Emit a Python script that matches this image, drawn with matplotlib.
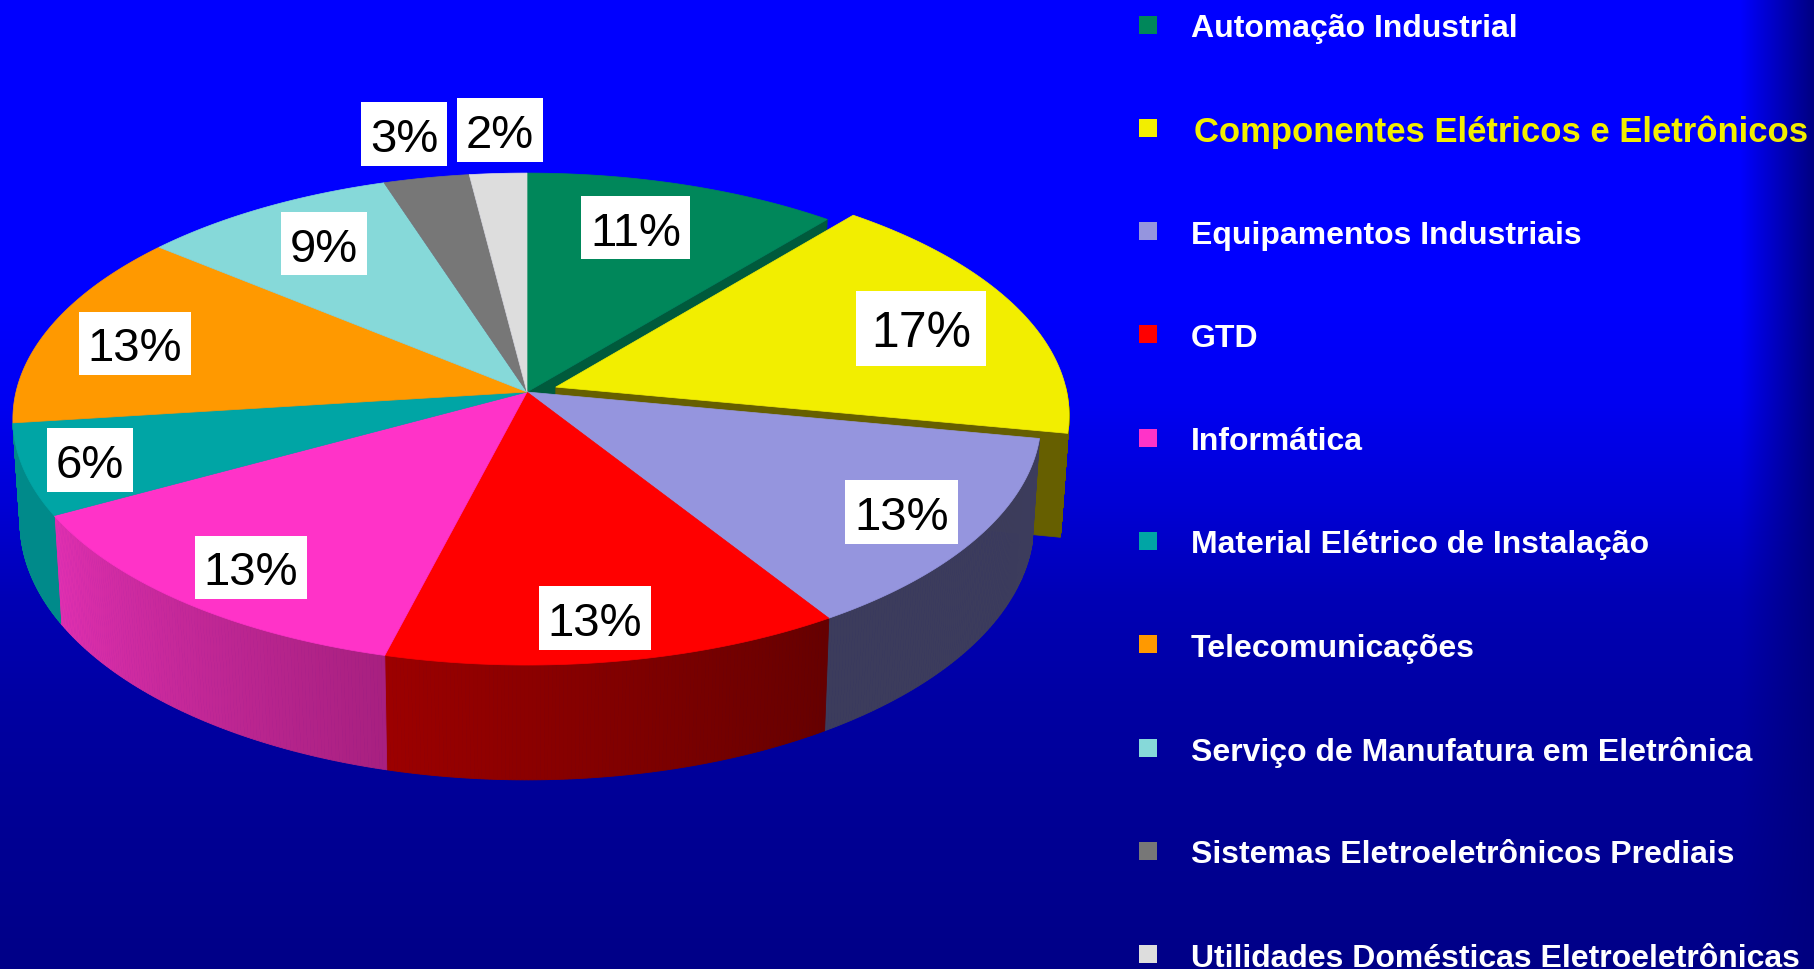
import matplotlib
matplotlib.use("Agg")
import matplotlib.pyplot as plt
import numpy as np
from matplotlib.patches import Polygon, Rectangle

# percent share per sector, clockwise from 12 o'clock
categories = [
    "Automação Industrial",
    "Componentes Elétricos e Eletrônicos",
    "Equipamentos Industriais",
    "GTD",
    "Informática",
    "Material Elétrico de Instalação",
    "Telecomunicações",
    "Serviço de Manufatura em Eletrônica",
    "Sistemas Eletroeletrônicos Prediais",
    "Utilidades Domésticas Eletroeletrônicas",
]
values = [11, 17, 13, 13, 13, 6, 13, 9, 3, 2]
labels = ["11%", "17%", "13%", "13%", "13%", "6%", "13%", "9%", "3%", "2%"]

colors = ["#00875a", "#f2ee00", "#9595de", "#ff0000", "#ff33c8",
          "#00a5a5", "#ff9900", "#86d9d9", "#777777", "#dddddd"]
side_start = ["#005a3c", "#665f00", "#3c3c5c", "#9c0000", "#e030b0",
              "#008a8a", "#a06000", "#508080", "#444444", "#888888"]
side_end = ["#005a3c", "#665f00", "#3c3c5c", "#660000", "#a82080",
            "#008a8a", "#a06000", "#508080", "#444444", "#888888"]

# white label boxes: left, top, right, bottom in pixels
label_boxes = [(581, 197, 690, 260), (856, 292, 986, 367), (845, 481, 958, 545),
               (539, 587, 651, 651), (195, 537, 307, 600), (47, 429, 133, 493),
               (79, 313, 191, 376), (281, 213, 367, 276), (361, 103, 447, 167),
               (457, 99, 543, 163)]

W, H = 1814, 970
CX, CY = 527, 393
RX, RY = 511, 243
PERSP = 0.11
EXPLODE = 0.06
exploded = 1


def top_xy(px, py):
    # plane coords of the pie top -> picture pixels
    d = 1 + PERSP * py
    return CX + RX * px / d, CY - RY * py / d


def bottom_xy(px, py):
    x, y = top_xy(px, py)
    return CX + 0.986 * (x - CX), CY + 102 + 1.047 * (y - CY)


def arc(t0, t1, n=120):
    t = np.radians(np.linspace(t0, t1, n))
    return np.sin(t), np.cos(t)


def mix(c0, c1, f):
    a = np.array(matplotlib.colors.to_rgb(c0))
    b = np.array(matplotlib.colors.to_rgb(c1))
    return tuple(a + (b - a) * f)


fig = plt.figure(figsize=(W / 100, H / 100), dpi=100)
ax = fig.add_axes([0, 0, 1, 1])
ax.set_xlim(0, W)
ax.set_ylim(H, 0)
ax.axis("off")

# background, bright blue at the top fading down, dark band at the right
fade_y = np.interp(np.arange(H), [0, 300, 400, 500, 600, 700, 800, 970],
                   [1, 1, 0.95, 0.84, 0.71, 0.64, 0.59, 0.53])
fade_x = np.clip((np.arange(W) - 1740) / (W - 1740), 0, 1)
blue = fade_y[:, None] * (1 - fade_x[None, :]) + 0.5 * fade_x[None, :]
bg = np.zeros((H, W, 3))
bg[:, :, 2] = blue
ax.imshow(bg, extent=(0, W, H, 0), aspect="auto", zorder=0)

edges = np.cumsum([0] + values) * 3.6
mids = (edges[:-1] + edges[1:]) / 2
shift_x = EXPLODE * np.sin(np.radians(mids[exploded]))
shift_y = EXPLODE * np.cos(np.radians(mids[exploded]))
# the orange sector shows no wall in the reference, walls stop at the teal one
wall_end = edges[6]


def draw_side(i, off_x=0, off_y=0, z=2):
    # outer wall of a sector, only the part that faces the viewer
    t0, t1 = max(edges[i], 90), min(edges[i + 1], wall_end)
    if t1 <= t0:
        return
    px, py = arc(t0, t1)
    for k in range(len(px) - 1):
        p0 = (px[k] + off_x, py[k] + off_y)
        p1 = (px[k + 1] + off_x, py[k + 1] + off_y)
        quad = [top_xy(*p0), top_xy(*p1), bottom_xy(*p1), bottom_xy(*p0)]
        c = mix(side_start[i], side_end[i], 1 - k / (len(px) - 2))
        ax.add_patch(Polygon(quad, fc=c, ec=c, lw=0.6, zorder=z))


def draw_top(i, off_x=0, off_y=0, z=4):
    px, py = arc(edges[i], edges[i + 1])
    pts = [top_xy(off_x, off_y)] + [top_xy(a + off_x, b + off_y) for a, b in zip(px, py)]
    ax.add_patch(Polygon(pts, fc=colors[i], ec=colors[i], lw=0.5, zorder=z))


def draw_cut(i, t, off_x=0, off_y=0, z=2):
    # radial wall left open by the exploded sector
    px, py = np.sin(np.radians(t)) + off_x, np.cos(np.radians(t)) + off_y
    quad = [top_xy(off_x, off_y), top_xy(px, py), bottom_xy(px, py), bottom_xy(off_x, off_y)]
    ax.add_patch(Polygon(quad, fc=side_start[i], ec=side_start[i], lw=0.5, zorder=z))


draw_cut(0, edges[1], z=1)
draw_top(0, z=1.5)
draw_cut(exploded, edges[exploded + 1], shift_x, shift_y, z=2)
draw_side(exploded, shift_x, shift_y, z=2)
draw_top(exploded, shift_x, shift_y, z=2.5)
for i in range(2, len(values)):
    draw_side(i, z=3)
for i in range(2, len(values)):
    draw_top(i, z=4)

for i, (x0, y0, x1, y1) in enumerate(label_boxes):
    ax.add_patch(Rectangle((x0, y0), x1 - x0, y1 - y0, fc="white", ec="none", zorder=5))
    ax.text((x0 + x1) / 2, (y0 + y1) / 2, labels[i], fontsize=36 if i == exploded else 34,
            color="black", family="Liberation Sans", ha="center", va="center_baseline", zorder=6)

# legend column
for i, name in enumerate(categories):
    yc = 25.5 + 103.3 * i
    ax.add_patch(Rectangle((1139, yc - 9), 18, 18, fc=colors[i], ec="none", zorder=5))
    big = i == exploded
    ax.text(1194 if big else 1191, yc, name, fontsize=24.9 if big else 23, fontweight="bold",
            color=colors[i] if big else "white", family="Liberation Sans",
            ha="left", va="center_baseline", zorder=6)

fig.savefig("out.png", dpi=100)
